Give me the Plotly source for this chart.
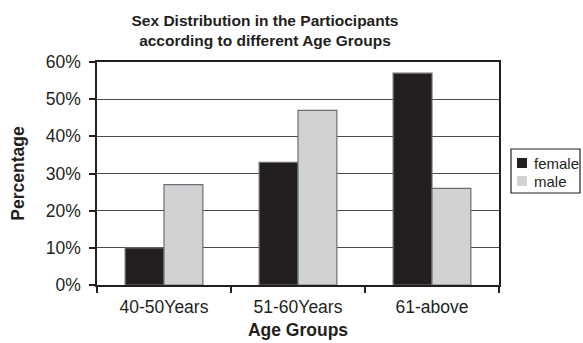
import plotly.graph_objects as go

# Age groups and share of each sex (percent)
age_groups = ["40-50Years", "51-60Years", "61-above"]
female_pct = [10, 33, 57]
male_pct = [27, 47, 26]
series_names = ["female", "male"]
series_colors = ["#231f20", "#d1d2d4"]
y_ticks = [0, 10, 20, 30, 40, 50, 60]
y_tick_labels = ["0%", "10%", "20%", "30%", "40%", "50%", "60%"]

W, H = 583, 343
L, R, T, B = 97, 84, 62, 58
plot_w, plot_h = W - L - R, H - T - B


def px_x(p):
    return (p - L) / plot_w


def px_y(p):
    return (H - B - p) / plot_h


fig = go.Figure()
for name, vals, col in zip(series_names, [female_pct, male_pct], series_colors):
    fig.add_trace(go.Bar(
        x=age_groups, y=vals, name=name,
        marker=dict(color=col, line=dict(color="#6d6e71", width=1.2)),
        showlegend=False,
    ))

# Legend box drawn by hand so it fits in the right margin
shapes = [dict(type="rect", xref="paper", yref="paper",
               x0=px_x(511), x1=px_x(580), y0=px_y(193), y1=px_y(149),
               line=dict(color="#231f20", width=1.2), fillcolor="white")]
annotations = []
for i, (name, col) in enumerate(zip(series_names, series_colors)):
    cy = 163 + i * 18
    shapes.append(dict(type="rect", xref="paper", yref="paper",
                       x0=px_x(517), x1=px_x(527), y0=px_y(cy + 5), y1=px_y(cy - 5),
                       line=dict(width=0), fillcolor=col))
    annotations.append(dict(xref="paper", yref="paper", x=px_x(532), y=px_y(cy),
                            xanchor="left", yanchor="middle", showarrow=False,
                            text=name, font=dict(size=15, color="#231f20")))

fig.update_layout(
    width=W, height=H,
    margin=dict(l=L, r=R, t=T, b=B, autoexpand=False),
    paper_bgcolor="white", plot_bgcolor="white",
    font=dict(family="Liberation Sans, Arial, sans-serif", color="#231f20"),
    barmode="group", bargap=0.42, bargroupgap=0,
    title=dict(
        text="Sex Distribution in the Partiocipants<br>according to different Age Groups",
        font=dict(family="Liberation Sans, Arial, sans-serif",
                  size=15.5, weight="bold", color="#231f20"),
        x=265 / W, xanchor="center", xref="container",
        y=1 - 26 / H, yanchor="middle", yref="container",
    ),
    xaxis=dict(
        title=dict(text="Age Groups", font=dict(size=17.5, weight="bold"), standoff=8),
        tickfont=dict(size=17.5),
        showline=True, linecolor="#231f20", linewidth=1.5, mirror=True,
        ticks="outside", tickson="boundaries", ticklen=6, tickcolor="#231f20", tickwidth=1.5,
        ticklabelstandoff=5,
        showgrid=False,
    ),
    yaxis=dict(
        title=dict(text="Percentage", font=dict(size=17.5, weight="bold"), standoff=17),
        range=[0, 60], tickmode="array", tickvals=y_ticks, ticktext=y_tick_labels,
        tickfont=dict(size=17.5),
        showline=True, linecolor="#231f20", linewidth=1.5, mirror=True,
        ticks="outside", ticklen=6, tickcolor="#231f20", tickwidth=1.5,
        ticklabelstandoff=5,
        showgrid=True, gridcolor="#4d4d4f", gridwidth=1.3,
        zeroline=False,
    ),
    shapes=shapes, annotations=annotations,
)

fig.write_html("out.html")
